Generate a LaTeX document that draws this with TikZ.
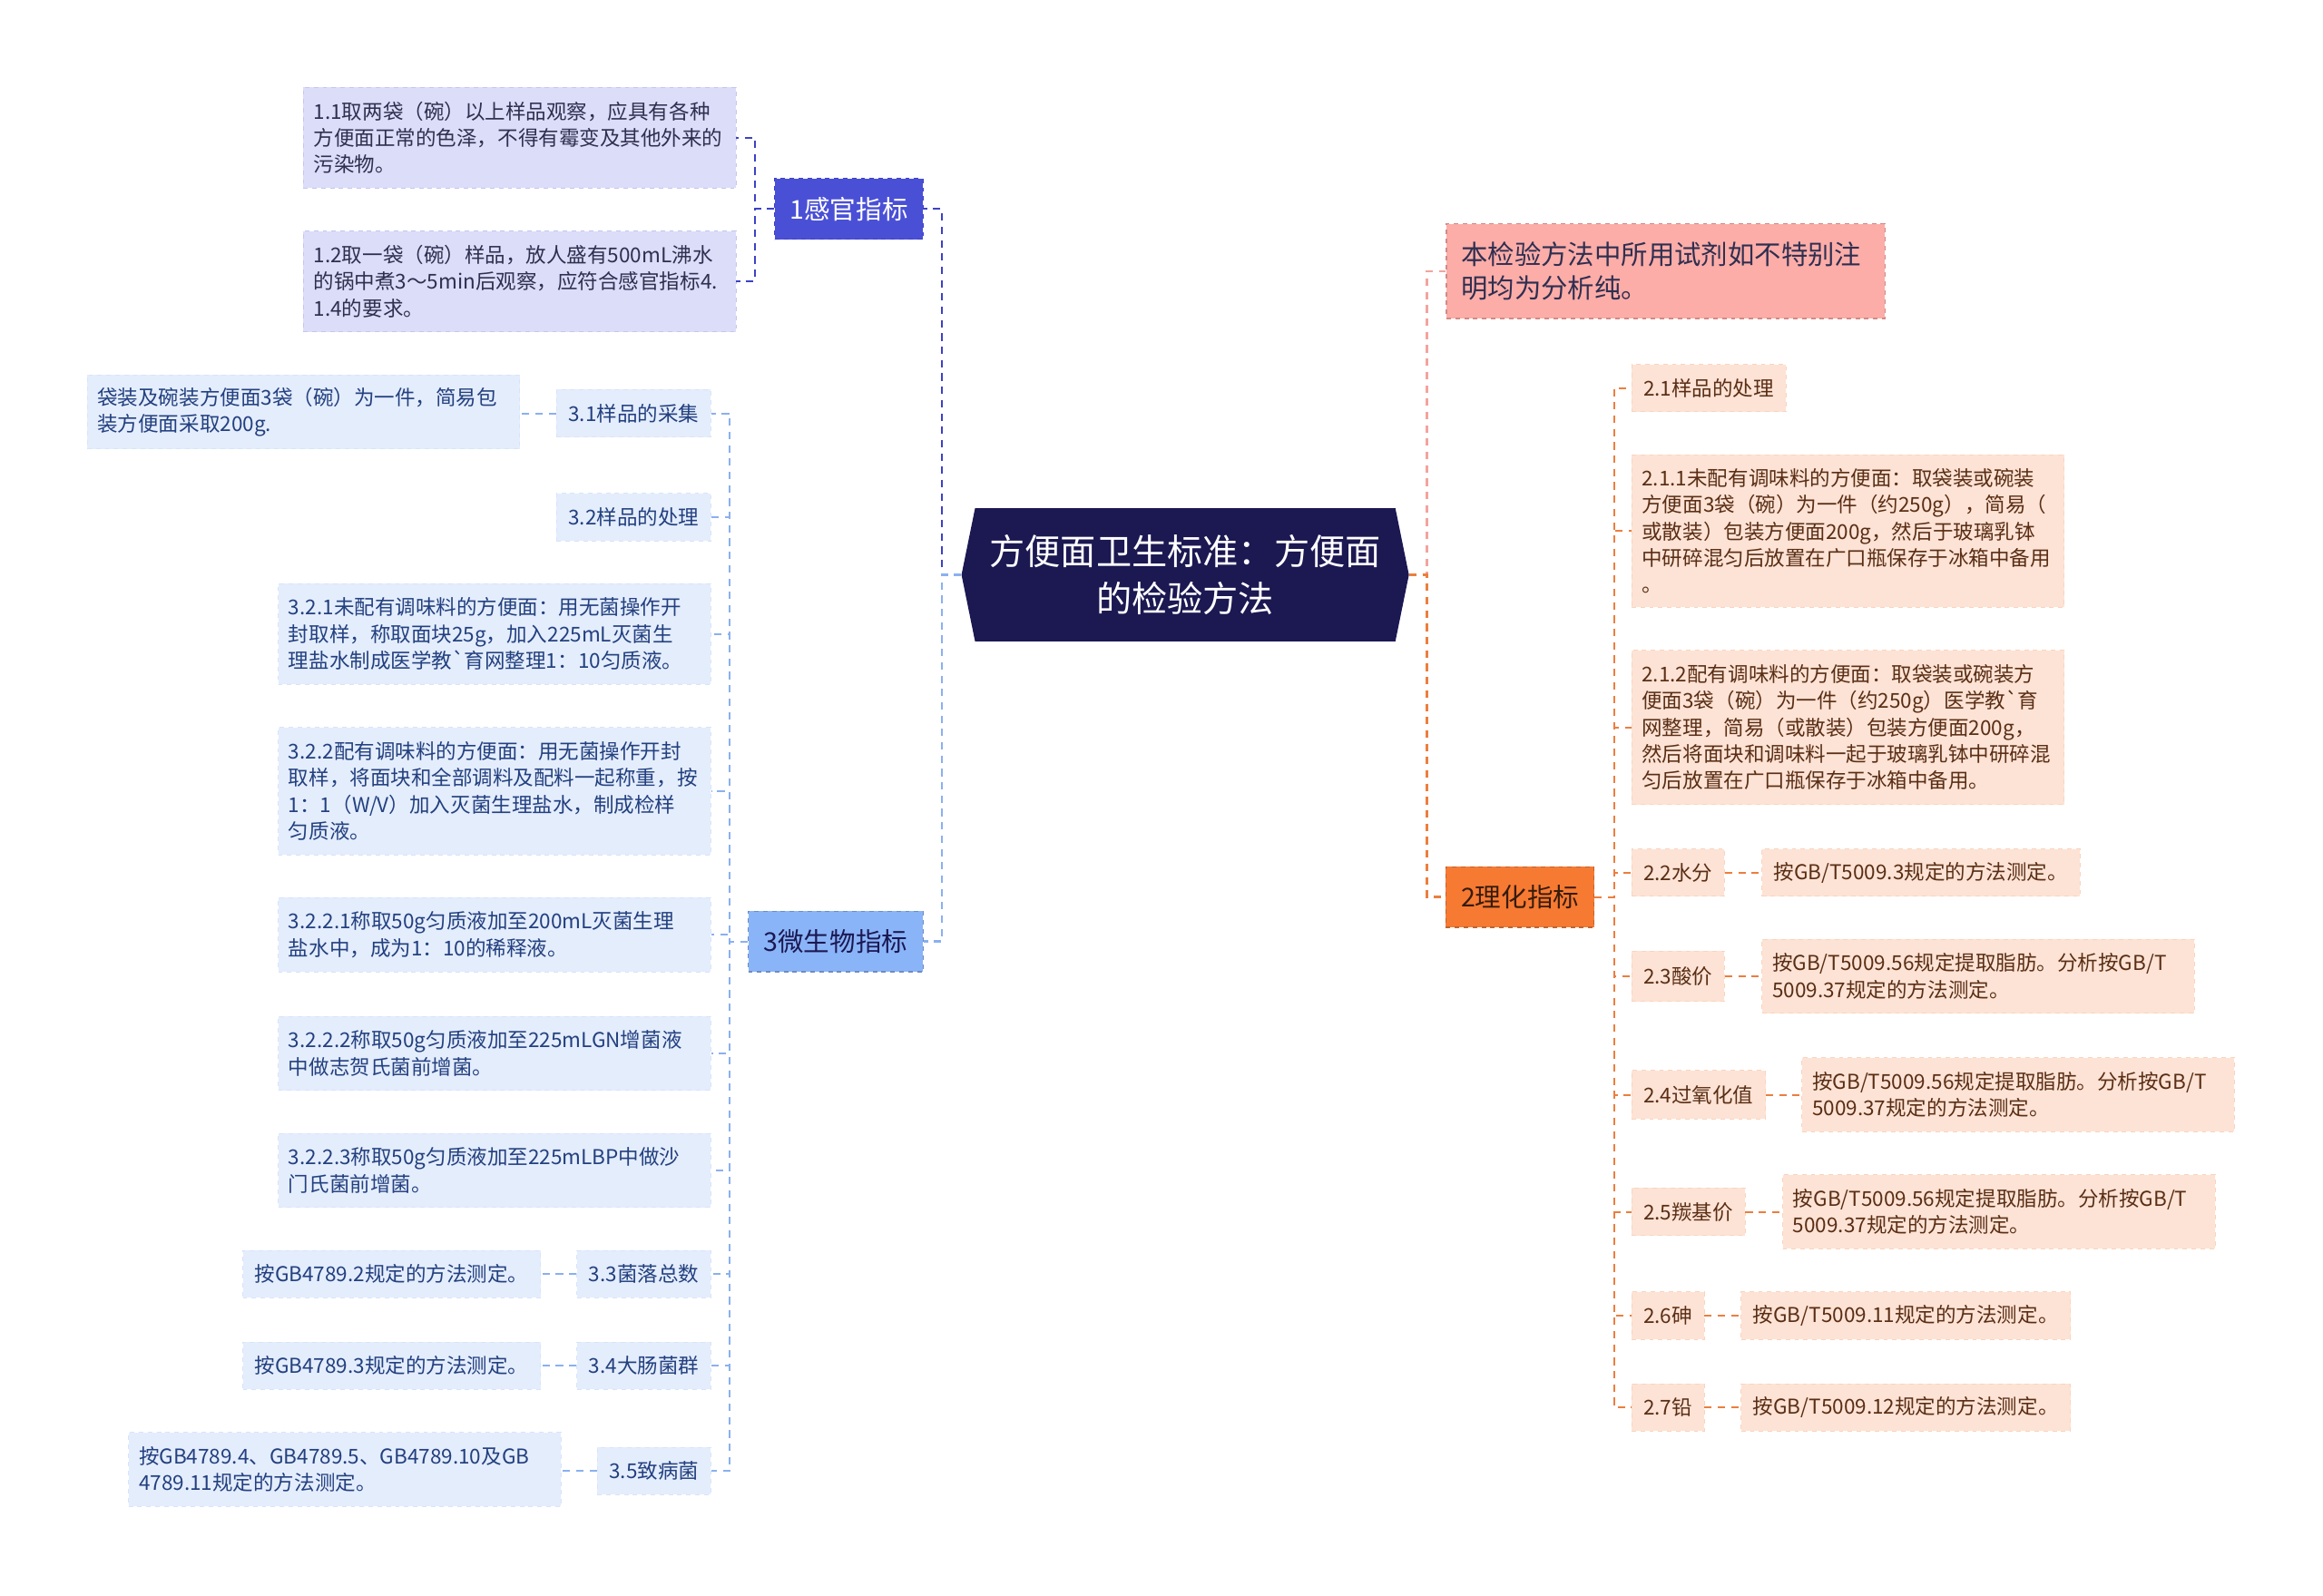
\documentclass[tikz,border=0pt]{standalone}
\usepackage{fontspec}
\setmainfont{Noto Sans CJK SC}
\usetikzlibrary{shapes.symbols}

\definecolor{rootfill}{HTML}{1B1852}
\definecolor{sensefill}{HTML}{4A50D6}
\definecolor{senseline}{HTML}{3D42C4}
\definecolor{senseleaf}{HTML}{DCDDF8}
\definecolor{sensetext}{HTML}{2F2F50}
\definecolor{microfill}{HTML}{8AB4F8}
\definecolor{microline}{HTML}{8AB0F0}
\definecolor{microleaf}{HTML}{E4EDFC}
\definecolor{microtext}{HTML}{23407F}
\definecolor{notefill}{HTML}{FCADA8}
\definecolor{noteline}{HTML}{F3A49E}
\definecolor{chemfill}{HTML}{F77A33}
\definecolor{chemline}{HTML}{EC7E3E}
\definecolor{chemleaf}{HTML}{FDE3D5}
\definecolor{chemtext}{HTML}{5A2E15}

\begin{document}
\begin{tikzpicture}[x=1pt,y=-1pt]

\tikzstyle{myroot}=[
  signal,
  signal to=west and east,
  signal pointer angle=157,
  fill=rootfill,
  text=white,
  align=center,
  minimum width=302pt,
  minimum height=90pt,
  font=\fontsize{24}{32}\selectfont]

\tikzstyle{mybranch}=[
  rectangle,
  draw, dashed,
  line width=0.7pt,
  minimum height=41pt,
  inner xsep=10pt,
  font=\fontsize{17.5}{20}\selectfont]

\tikzstyle{myleaf}=[
  rectangle,
  draw, dashed,
  line width=0.5pt,
  minimum height=32pt,
  inner xsep=8pt,
  font=\fontsize{13.8}{18}\selectfont]

\tikzstyle{mytext}=[myleaf, inner xsep=7pt, text width=278pt, align=left]

\tikzstyle{mysense}=[fill=senseleaf, draw=senseleaf!85!senseline, text=sensetext]
\tikzstyle{mymicro}=[fill=microleaf, draw=microleaf!85!microline, text=microtext]
\tikzstyle{mychem}=[fill=chemleaf, draw=chemleaf!85!chemline, text=chemtext]

\tikzstyle{myline}=[dash pattern=on 5pt off 4pt, line width=1.2pt]

\useasboundingbox (0,0) rectangle (1568,1077);

% define points
\path
  (800,388) coordinate(R0)
  (573,141) coordinate(S0)
  (564,635.5) coordinate(M0)
  (1026,605.5) coordinate(P0)
  (976,183) coordinate(N0)
  ;

\node[myroot] (R) at (R0) {方便面卫生标准：方便面\\的检验方法};

% sensory branch
\node[mybranch, fill=sensefill, draw=senseline, text=white, minimum width=100pt] (S) at (S0) {1感官指标};
\node[mytext, mysense, minimum height=68pt, anchor=east] (S1) at (497,93) {1.1取两袋（碗）以上样品观察，应具有各种\\方便面正常的色泽，不得有霉变及其他外来的\\污染物。};
\node[mytext, mysense, minimum height=68pt, anchor=east] (S2) at (497,190) {1.2取一袋（碗）样品，放人盛有500mL沸水\\的锅中煮3～5min后观察，应符合感官指标4.\\1.4的要求。};

% micro branch
\node[mybranch, fill=microfill, draw=microline!80!black, text=rootfill, minimum width=118pt] (M) at (M0) {3微生物指标};
\node[myleaf, mymicro, anchor=east] (M1) at (480,279) {3.1样品的采集};
\node[mytext, mymicro, minimum height=50pt, anchor=east] (M1a) at (351,278) {袋装及碗装方便面3袋（碗）为一件，简易包\\装方便面采取200g.};
\node[myleaf, mymicro, anchor=east] (M2) at (480,349) {3.2样品的处理};
\node[mytext, mymicro, minimum height=68pt, anchor=east] (M3) at (480,428) {3.2.1未配有调味料的方便面：用无菌操作开\\封取样，称取面块25g，加入225mL灭菌生\\理盐水制成医学教\textasciigrave 育网整理1：10匀质液。};
\node[mytext, mymicro, minimum height=86pt, anchor=east] (M4) at (480,534) {3.2.2配有调味料的方便面：用无菌操作开封\\取样，将面块和全部调料及配料一起称重，按\\1：1（W/V）加入灭菌生理盐水，制成检样\\匀质液。};
\node[mytext, mymicro, minimum height=50pt, anchor=east] (M5) at (480,631) {3.2.2.1称取50g匀质液加至200mL灭菌生理\\盐水中，成为1：10的稀释液。};
\node[mytext, mymicro, minimum height=50pt, anchor=east] (M6) at (480,711) {3.2.2.2称取50g匀质液加至225mLGN增菌液\\中做志贺氏菌前增菌。};
\node[mytext, mymicro, minimum height=50pt, anchor=east] (M7) at (480,790) {3.2.2.3称取50g匀质液加至225mLBP中做沙\\门氏菌前增菌。};
\node[myleaf, mymicro, anchor=east] (M8) at (480,860) {3.3菌落总数};
\node[myleaf, mymicro, anchor=east] (M8a) at (365,860) {按GB4789.2规定的方法测定。};
\node[myleaf, mymicro, anchor=east] (M9) at (480,922) {3.4大肠菌群};
\node[myleaf, mymicro, anchor=east] (M9a) at (365,922) {按GB4789.3规定的方法测定。};
\node[myleaf, mymicro, anchor=east] (M10) at (480,993) {3.5致病菌};
\node[mytext, mymicro, minimum height=50pt, anchor=east] (M10a) at (379,992) {按GB4789.4、GB4789.5、GB4789.10及GB\\4789.11规定的方法测定。};

% note and chem branch
\node[mybranch, fill=notefill, draw=noteline!85!black, text=sensetext, text width=276pt, align=left, minimum height=64pt, font=\fontsize{18}{23}\selectfont, anchor=west] (N) at (N0) {本检验方法中所用试剂如不特别注\\明均为分析纯。};
\node[mybranch, fill=chemfill, draw=chemline!80!black, text=chemtext!60!black, minimum width=100pt] (P) at (P0) {2理化指标};
\node[myleaf, mychem, anchor=west] (P1) at (1101,262) {2.1样品的处理};
\node[mytext, mychem, minimum height=103pt, anchor=west] (P2) at (1101,358.5) {2.1.1未配有调味料的方便面：取袋装或碗装\\方便面3袋（碗）为一件（约250g），简易（\\或散装）包装方便面200g，然后于玻璃乳钵\\中研碎混匀后放置在广口瓶保存于冰箱中备用\\。};
\node[mytext, mychem, minimum height=104pt, anchor=west] (P3) at (1101,491) {2.1.2配有调味料的方便面：取袋装或碗装方\\便面3袋（碗）为一件（约250g）医学教\textasciigrave 育\\网整理，简易（或散装）包装方便面200g，\\然后将面块和调味料一起于玻璃乳钵中研碎混\\匀后放置在广口瓶保存于冰箱中备用。};
\node[myleaf, mychem, anchor=west] (P4) at (1101,589) {2.2水分};
\node[myleaf, mychem, anchor=west] (P4a) at (1189,589) {按GB/T5009.3规定的方法测定。};
\node[myleaf, mychem, minimum height=34pt, anchor=west] (P5) at (1101,659) {2.3酸价};
\node[mytext, mychem, minimum height=50pt, anchor=west] (P5a) at (1189,659) {按GB/T5009.56规定提取脂肪。分析按GB/T\\5009.37规定的方法测定。};
\node[myleaf, mychem, minimum height=33pt, anchor=west] (P6) at (1101,739) {2.4过氧化值};
\node[mytext, mychem, minimum height=50pt, anchor=west] (P6a) at (1216,739) {按GB/T5009.56规定提取脂肪。分析按GB/T\\5009.37规定的方法测定。};
\node[myleaf, mychem, anchor=west] (P7) at (1101,818) {2.5羰基价};
\node[mytext, mychem, minimum height=50pt, anchor=west] (P7a) at (1203,818) {按GB/T5009.56规定提取脂肪。分析按GB/T\\5009.37规定的方法测定。};
\node[myleaf, mychem, anchor=west] (P8) at (1101,888) {2.6砷};
\node[myleaf, mychem, anchor=west] (P8a) at (1175,888) {按GB/T5009.11规定的方法测定。};
\node[myleaf, mychem, anchor=west] (P9) at (1101,950) {2.7铅};
\node[myleaf, mychem, anchor=west] (P9a) at (1175,950) {按GB/T5009.12规定的方法测定。};

% draw lines
\draw[myline, senseline, line width=1.5pt]
  (R.west) -- ++(-13,0) |- (S.east)
  ;
\draw[myline, microline, line width=1.5pt]
  (R.west) -- ++(-13,0) |- (M.east)
  ;
\draw[myline, noteline, line width=1.5pt]
  (R.east) -- ++(12,0) |- (N.west)
  ;
\draw[myline, chemline, line width=1.5pt]
  (R.east) -- ++(12,0) |- (P.west)
  ;

\draw[myline, senseline]
  (S.west) -- ++(-13,0) |- (S1.east)
  (S.west) -- ++(-13,0) |- (S2.east)
  ;

\draw[myline, microline]
  (M.west) -- ++(-12,0) |- (M1.east)
  (M.west) -- ++(-12,0) |- (M2.east)
  (M.west) -- ++(-12,0) |- (M3.east)
  (M.west) -- ++(-12,0) |- (M4.east)
  (M.west) -- ++(-12,0) |- (M5.east)
  (M.west) -- ++(-12,0) |- (M6.east)
  (M.west) -- ++(-12,0) |- (M7.east)
  (M.west) -- ++(-12,0) |- (M8.east)
  (M.west) -- ++(-12,0) |- (M9.east)
  (M.west) -- ++(-12,0) |- (M10.east)
  (M1.west) -- (M1.west -| M1a.east)
  (M8.west) -- (M8a.east)
  (M9.west) -- (M9a.east)
  (M10.west) -- (M10.west -| M10a.east)
  ;

\draw[myline, chemline]
  (P.east) -- ++(13,0) |- (P1.west)
  (P.east) -- ++(13,0) |- (P2.west)
  (P.east) -- ++(13,0) |- (P3.west)
  (P.east) -- ++(13,0) |- (P4.west)
  (P.east) -- ++(13,0) |- (P5.west)
  (P.east) -- ++(13,0) |- (P6.west)
  (P.east) -- ++(13,0) |- (P7.west)
  (P.east) -- ++(13,0) |- (P8.west)
  (P.east) -- ++(13,0) |- (P9.west)
  (P4.east) -- (P4a.west)
  (P5.east) -- (P5a.west)
  (P6.east) -- (P6a.west)
  (P7.east) -- (P7a.west)
  (P8.east) -- (P8a.west)
  (P9.east) -- (P9a.west)
  ;

\end{tikzpicture}
\end{document}
